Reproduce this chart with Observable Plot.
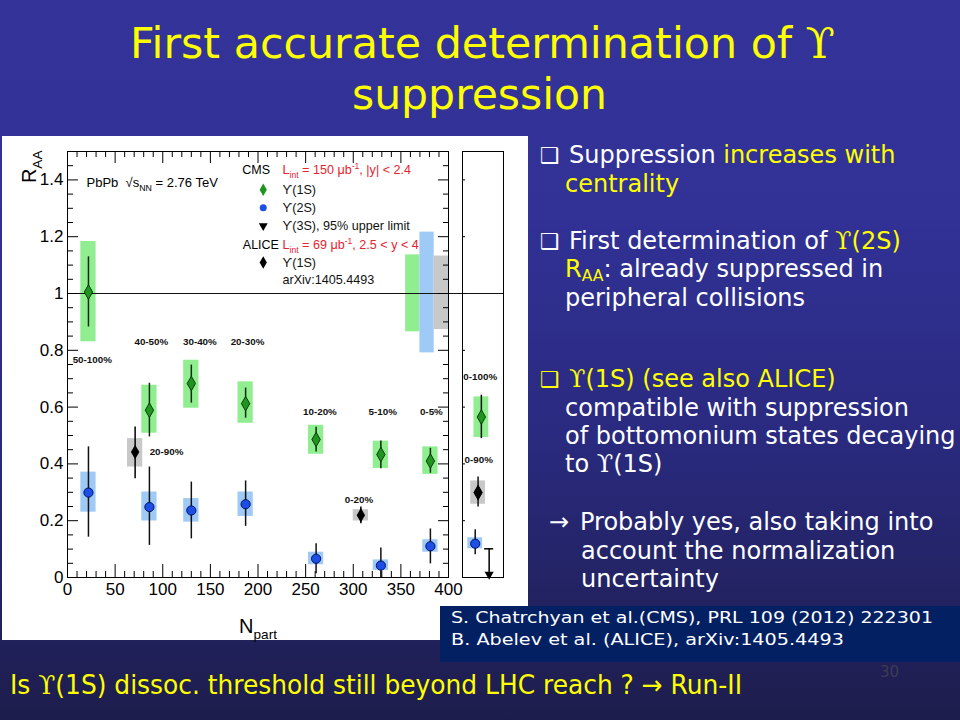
<!DOCTYPE html>
<html><head><meta charset="utf-8">
<script src="https://cdn.jsdelivr.net/npm/d3@7"></script>
<script src="https://cdn.jsdelivr.net/npm/@observablehq/plot@0.6"></script>
<style>
body{margin:0;background:#1c1c48;}
#slide{position:relative;width:960px;height:720px;overflow:hidden;
  background:linear-gradient(to bottom,#333399 0%,#313196 30%,#2a2a80 60%,#1d1d4c 100%);
  font-family:"DejaVu Sans",Verdana,sans-serif;}
.ln{position:absolute;white-space:nowrap;color:#fff;transform-origin:0 50%;}
.yl{color:#ffff00;}
.ups{font-family:"DejaVu Serif",serif;}
.ln sub{font-size:0.65em;vertical-align:-0.25em;line-height:0;}
#panel{position:absolute;left:2px;top:136px;width:526px;height:504px;background:#fff;}
#main,#integ{position:absolute;top:136px;}
#main{left:2px;} #integ{left:450px;}
#refbox{position:absolute;left:440px;top:606px;width:520px;height:56px;background:#032063;}
</style></head><body>
<div id="slide">
  <div id="panel"></div>
  <div id="main"></div>
  <div id="integ"></div>
  <div id="refbox"></div>

  <div class="ln yl" data-x="130" data-b="58" data-w="705" style="font-size:42.5px">First accurate determination of <span class="ups">ϒ</span></div>
  <div class="ln yl" data-x="352" data-b="109" data-w="255" style="font-size:42.5px">suppression</div>

  <div class="ln" data-x="540" data-b="164" style="font-size:22px">❑</div>
  <div class="ln" data-x="569" data-b="164" style="font-size:24px">Suppression <span class="yl">increases with</span></div>
  <div class="ln yl" data-x="565" data-b="193" style="font-size:24px">centrality</div>

  <div class="ln" data-x="540" data-b="250" style="font-size:22px">❑</div>
  <div class="ln" data-x="569" data-b="250" style="font-size:24px">First determination of <span class="yl"><span class="ups">ϒ</span>(2S)</span></div>
  <div class="ln" data-x="565" data-b="278" style="font-size:24px"><span class="yl">R<sub>AA</sub></span>: already suppressed in</div>
  <div class="ln" data-x="565" data-b="307" style="font-size:24px">peripheral collisions</div>

  <div class="ln yl" data-x="540" data-b="388" style="font-size:22px">❑</div>
  <div class="ln yl" data-x="569" data-b="388" style="font-size:24px"><span class="ups">ϒ</span>(1S) (see also ALICE)</div>
  <div class="ln" data-x="565" data-b="417" style="font-size:24px">compatible with suppression</div>
  <div class="ln" data-x="565" data-b="445" style="font-size:24px">of bottomonium states decaying</div>
  <div class="ln" data-x="565" data-b="473" style="font-size:24px">to <span class="ups">ϒ</span>(1S)</div>

  <div class="ln" data-x="549" data-b="531" style="font-size:24px">→</div>
  <div class="ln" data-x="580" data-b="531" style="font-size:24px">Probably yes, also taking into</div>
  <div class="ln" data-x="581" data-b="560" style="font-size:24px">account the normalization</div>
  <div class="ln" data-x="581" data-b="588" style="font-size:24px">uncertainty</div>

  <div class="ln" data-x="451" data-b="624" data-w="482" style="font-size:16.5px">S. Chatrchyan et al.(CMS), PRL 109 (2012) 222301</div>
  <div class="ln" data-x="451" data-b="646" data-w="393" style="font-size:16.5px">B. Abelev et al. (ALICE), arXiv:1405.4493</div>
  <div class="ln" data-x="880" data-b="677" style="font-size:15px;color:#3c3c54">30</div>

  <div class="ln yl" data-x="10" data-b="695" data-w="732" style="font-size:26px">Is <span class="ups">ϒ</span>(1S) dissoc. threshold still beyond LHC reach ? → Run-II</div>
</div>
<script>
// ---------------- data ----------------
// CMS Upsilon(1S) and Upsilon(2S) vs Npart (centrality bins)
const centCMS   = ["50-100%", "40-50%", "30-40%", "20-30%", "10-20%", "5-10%", "0-5%"];
const npartCMS  = [22, 86, 130, 187, 261, 329, 381];
const raa1S       = [1.005, 0.589, 0.683, 0.612, 0.486, 0.433, 0.410];
const raa1SStatLo = [0.882, 0.495, 0.614, 0.561, 0.442, 0.383, 0.367];
const raa1SStatHi = [1.129, 0.684, 0.748, 0.667, 0.529, 0.481, 0.455];
const raa1SSysLo  = [0.830, 0.508, 0.596, 0.543, 0.434, 0.384, 0.363];
const raa1SSysHi  = [1.183, 0.677, 0.765, 0.689, 0.536, 0.480, 0.460];
const raa2S       = [0.299, 0.248, 0.236, 0.258, 0.066, 0.042, 0.110];
const raa2SStatLo = [0.142, 0.113, 0.136, 0.180, 0.013, 0.000, 0.048];
const raa2SStatHi = [0.460, 0.389, 0.336, 0.340, 0.119, 0.104, 0.171];
const raa2SSysLo  = [0.230, 0.199, 0.195, 0.215, 0.045, 0.025, 0.089];
const raa2SSysHi  = [0.371, 0.301, 0.278, 0.301, 0.089, 0.062, 0.133];
// ALICE Upsilon(1S), forward rapidity
const centALICE   = ["20-90%", "0-20%"];
const npartALICE  = [71, 308];
const raaA        = [0.442, 0.219];
const raaAStatLo  = [0.348, 0.189];
const raaAStatHi  = [0.530, 0.248];
const raaASysLo   = [0.389, 0.199];
const raaASysHi   = [0.489, 0.239];
// global (normalisation) uncertainties around unity
const globalNames = ["CMS ϒ(1S)", "CMS ϒ(2S)", "ALICE ϒ(1S)"];
const globalLo    = [0.865, 0.791, 0.873];
const globalHi    = [1.136, 1.216, 1.132];
// centrality-integrated values (right panel)
const intNames    = ["CMS ϒ(1S) 0-100%", "CMS ϒ(2S) 0-100%", "ALICE ϒ(1S) 0-90%"];
const intRaa      = [0.565, 0.119, 0.299];
const intStatLo   = [0.489, 0.080, 0.248];
const intStatHi   = [0.642, 0.168, 0.354];
const intSysLo    = [0.493, 0.101, 0.258];
const intSysHi    = [0.636, 0.140, 0.340];
const limit3S     = 0.101;   // CMS Upsilon(3S) 95% CL upper limit, 0-100%
// axis ticks
const xTickLabels = [0, 50, 100, 150, 200, 250, 300, 350, 400];
const yTickLabels = [0, 0.2, 0.4, 0.6, 0.8, 1, 1.2, 1.4];
const xMinorTicks = d3.range(10, 400, 10).filter(v => v % 50 !== 0);
const yMinorTicks = d3.range(1, 30).filter(i => i % 4 !== 0).map(i => i * 0.05);
// annotation labels (placed in data units)
const annText = ["50-100%", "40-50%", "30-40%", "20-30%", "10-20%", "5-10%", "0-5%", "20-90%", "0-20%"];
const annX    = [26, 88, 139, 189, 265, 331, 382, 104, 306];
const annY    = [0.765, 0.83, 0.83, 0.83, 0.583, 0.583, 0.583, 0.442, 0.272];

// ---------------- build ----------------
const cms1S = centCMS.map((c, i) => ({c, x: npartCMS[i], y: raa1S[i], sl: raa1SStatLo[i], sh: raa1SStatHi[i], yl: raa1SSysLo[i], yh: raa1SSysHi[i]}));
const cms2S = centCMS.map((c, i) => ({c, x: npartCMS[i], y: raa2S[i], sl: raa2SStatLo[i], sh: raa2SStatHi[i], yl: raa2SSysLo[i], yh: raa2SSysHi[i]}));
const alice = centALICE.map((c, i) => ({c, x: npartALICE[i], y: raaA[i], sl: raaAStatLo[i], sh: raaAStatHi[i], yl: raaASysLo[i], yh: raaASysHi[i]}));
const globalBoxes = globalNames.map((n, i) => ({n, i, lo: globalLo[i], hi: globalHi[i]}));
const ann = annText.map((t, i) => ({t, x: annX[i], y: annY[i]}));

const BOXW = 8;          // half width of systematic boxes (Npart units)
const GW = 15;           // width of global-uncertainty boxes
const GREEN_BOX = "#90ee90", BLUE_BOX = "#9fcaf6", GRAY_BOX = "#c8c8c8";
const GREEN = "#1f951f", BLUE = "#1d4fe6";
const DR = 4.4;          // diamond marker size
const W = 460, H = 504, ML = 65, MR = 14, MT = 15, MB = 63;
const FW = W - ML - MR, FH = H - MT - MB;
const globalFill = [GREEN_BOX, BLUE_BOX, GRAY_BOX];

// legend (data units within the frame)
const legSymX = 205.5, legTxtX = 225.7;
const legend = [
  {t: "L_{int} = 150 μb^{-1}, |y| < 2.4", y: 1.434, red: true},
  {t: "ϒ(1S)", y: 1.365},
  {t: "ϒ(2S)", y: 1.302},
  {t: "ϒ(3S), 95% upper limit", y: 1.238},
  {t: "L_{int} = 69 μb^{-1}, 2.5 < y < 4", y: 1.171, red: true},
  {t: "ϒ(1S)", y: 1.109},
  {t: "arXiv:1405.4493", y: 1.048}
];

const main = Plot.plot({
  width: W, height: H, marginLeft: ML, marginRight: MR, marginTop: MT, marginBottom: MB,
  style: {background: "transparent", fontFamily: "Liberation Sans, Arial, sans-serif", overflow: "visible"},
  x: {domain: [0, 400], label: null},
  y: {domain: [0, 1.5], label: null},
  marks: [
    Plot.rect(cms1S, {x1: d => d.x - BOXW, x2: d => d.x + BOXW, y1: "yl", y2: "yh", fill: GREEN_BOX}),
    Plot.rect(cms2S, {x1: d => d.x - BOXW, x2: d => d.x + BOXW, y1: "yl", y2: "yh", fill: BLUE_BOX}),
    Plot.rect(alice, {x1: d => d.x - BOXW, x2: d => d.x + BOXW, y1: "yl", y2: "yh", fill: GRAY_BOX}),
    Plot.rect(globalBoxes, {x1: d => 400 - GW * (3 - d.i), x2: d => 400 - GW * (2 - d.i), y1: "lo", y2: "hi", fill: d => globalFill[d.i]}),
    Plot.ruleY([1], {stroke: "#111", strokeWidth: 1.2, insetRight: -14}),
    Plot.ruleX(cms1S, {x: "x", y1: "sl", y2: "sh", stroke: "#0c2a0c", strokeWidth: 1.5}),
    Plot.ruleX(cms2S, {x: "x", y1: "sl", y2: "sh", stroke: "#111", strokeWidth: 1.5}),
    Plot.ruleX(alice, {x: "x", y1: "sl", y2: "sh", stroke: "#000", strokeWidth: 1.5}),
    Plot.dot(cms1S, {x: "x", y: "y", symbol: "diamond", r: DR, fill: GREEN, stroke: "#0a3a0a", strokeWidth: 1}),
    Plot.dot(cms2S, {x: "x", y: "y", r: 4.6, fill: BLUE, stroke: "#001060", strokeWidth: 1}),
    Plot.dot(alice, {x: "x", y: "y", symbol: "diamond", r: DR, fill: "#000"}),
    // ticks (inward)
    Plot.tickY(yTickLabels.slice(1), {insetRight: FW - 11, stroke: "#000"}),
    Plot.tickY(yMinorTicks, {insetRight: FW - 6, stroke: "#000"}),
    Plot.tickY(yTickLabels.slice(1), {insetLeft: FW - 10, stroke: "#000"}),
    Plot.tickY(yMinorTicks, {insetLeft: FW - 5, stroke: "#000"}),
    Plot.tickX(xTickLabels.slice(1, -1), {insetTop: FH - 13, stroke: "#000"}),
    Plot.tickX(xMinorTicks, {insetTop: FH - 6, stroke: "#000"}),
    Plot.tickX(xTickLabels.slice(1, -1), {insetBottom: FH - 12, stroke: "#000"}),
    Plot.tickX(xMinorTicks, {insetBottom: FH - 6, stroke: "#000"}),
    Plot.frame({stroke: "#000", strokeWidth: 1}),
    Plot.axisY({ticks: yTickLabels, tickSize: 0, tickPadding: 4, fontSize: 17, label: null, tickFormat: d => String(d), fill: "#000"}),
    Plot.axisX({ticks: xTickLabels, tickSize: 0, tickPadding: 5, fontSize: 17, label: null, tickFormat: d => String(d), fill: "#000"}),
    Plot.text(["R_{AA}"], {frameAnchor: "top-left", dx: -38, dy: -1, rotate: -90, textAnchor: "end", lineAnchor: "middle", fontSize: 20}),
    Plot.text(["N_{part}"], {frameAnchor: "bottom", dy: 49, lineAnchor: "middle", fontSize: 20}),
    // annotations
    Plot.text(ann, {x: "x", y: "y", text: "t", fontSize: 9.8, fontWeight: "bold", fill: "#111"}),
    // legend
    Plot.text(["PbPb  √s_{NN} = 2.76 TeV"], {x: () => 20, y: () => 1.39, textAnchor: "start", fontSize: 13}),
    Plot.text(["CMS"], {x: () => 198, y: () => 1.434, fontSize: 12.5}),
    Plot.text(["ALICE"], {x: () => 203, y: () => 1.171, fontSize: 12.5}),
    Plot.text(legend, {x: () => legTxtX, y: "y", text: "t", textAnchor: "start", fontSize: 12.6, fill: d => d.red ? "#e8232e" : "#111"}),
    Plot.dot([legend[1]], {x: () => legSymX, y: "y", symbol: "diamond", r: 3.8, fill: GREEN}),
    Plot.dot([legend[2]], {x: () => legSymX, y: "y", r: 3.5, fill: BLUE}),
    Plot.dot([legend[3]], {x: () => legSymX, y: "y", symbol: "triangle", rotate: 180, r: 3.3, fill: "#000"}),
    Plot.dot([legend[5]], {x: () => legSymX, y: "y", symbol: "diamond", r: 3.8, fill: "#000"})
  ]
});

const intData = intNames.map((n, i) => ({n, y: intRaa[i], sl: intStatLo[i], sh: intStatHi[i], yl: intSysLo[i], yh: intSysHi[i]}));
// horizontal offsets inside the integrated panel, for visibility
const intPos = [0.46, 0.31, 0.38];
const intMarks = [
  {symbol: "diamond", fill: GREEN, stroke: "#0a3a0a", box: GREEN_BOX},
  {symbol: "circle", fill: BLUE, stroke: "#001060", box: BLUE_BOX},
  {symbol: "diamond", fill: "#000", stroke: "#000", box: GRAY_BOX}
];
intData.forEach((d, i) => { d.x = intPos[i]; Object.assign(d, intMarks[i]); });
const lim = [{x: 0.65, y: limit3S}];
const IW = 78, IML = 12, IMR = 25, IFW = IW - IML - IMR;

const integ = Plot.plot({
  width: IW, height: H, marginLeft: IML, marginRight: IMR, marginTop: MT, marginBottom: MB,
  style: {background: "transparent", fontFamily: "Liberation Sans, Arial, sans-serif", overflow: "visible"},
  x: {domain: [0, 1], axis: null},
  y: {domain: [0, 1.5], axis: null},
  marks: [
    Plot.rect(intData, {x1: d => d.x - 0.18, x2: d => d.x + 0.18, y1: "yl", y2: "yh", fill: "box"}),
    Plot.ruleY([1], {stroke: "#111", strokeWidth: 1.2}),
    Plot.ruleX(intData, {x: "x", y1: "sl", y2: "sh", stroke: "#111", strokeWidth: 1.5}),
    Plot.dot(intData.filter(d => d.symbol === "diamond"), {x: "x", y: "y", symbol: "diamond", r: DR, fill: "fill", stroke: "stroke", strokeWidth: 1}),
    Plot.dot(intData.filter(d => d.symbol === "circle"), {x: "x", y: "y", r: 4.6, fill: "fill", stroke: "stroke", strokeWidth: 1}),
    Plot.ruleX(lim, {x: "x", y1: "y", y2: () => 0, stroke: "#000", strokeWidth: 1.5}),
    Plot.ruleY(lim, {y: "y", x1: d => d.x - 0.11, x2: d => d.x + 0.11, stroke: "#000", strokeWidth: 1.5}),
    Plot.dot(lim, {x: "x", y: () => 0, dy: -3, symbol: "triangle", rotate: 180, r: 3.4, fill: "#000"}),
    Plot.tickY(yTickLabels.slice(1), {insetRight: IFW - 3, stroke: "#000"}),
    Plot.frame({stroke: "#000", strokeWidth: 1}),
    Plot.text(["0-100%"], {x: () => 0.02, y: () => 0.707, textAnchor: "start", fontSize: 9.8, fontWeight: "bold", fill: "#111"}),
    Plot.text(["0-90%"], {x: () => 0.05, y: () => 0.413, textAnchor: "start", fontSize: 9.8, fontWeight: "bold", fill: "#111"})
  ]
});

document.getElementById("main").appendChild(main);
document.getElementById("integ").appendChild(integ);

// sub/superscript markup -> tspans
function richify(svg) {
  svg.querySelectorAll("text").forEach(t => {
    const s = t.textContent;
    if (!/[_^]\{/.test(s)) return;
    const fs = parseFloat(getComputedStyle(t).fontSize) || 12;
    const parts = s.split(/([_^]\{[^}]*\})/).filter(p => p !== "");
    while (t.firstChild) t.removeChild(t.firstChild);
    let cur = 0;
    parts.forEach(p => {
      let shift = 0, txt = p, small = false;
      if (p.startsWith("_{")) { shift = 0.3 * fs; txt = p.slice(2, -1); small = true; }
      else if (p.startsWith("^{")) { shift = -0.4 * fs; txt = p.slice(2, -1); small = true; }
      const ts = document.createElementNS("http://www.w3.org/2000/svg", "tspan");
      ts.setAttribute("dy", (shift - cur).toFixed(2));
      cur = shift;
      if (small) ts.setAttribute("font-size", (0.68 * fs).toFixed(1));
      ts.textContent = txt;
      t.appendChild(ts);
    });
  });
}
richify(main);

// position slide text lines by baseline
document.querySelectorAll(".ln").forEach(el => {
  const fs = parseFloat(el.style.fontSize);
  el.style.lineHeight = (1.2 * fs) + "px";
  el.style.left = el.dataset.x + "px";
  el.style.top = (parseFloat(el.dataset.b) - 0.946 * fs) + "px";
  if (el.dataset.w) {
    const w = el.getBoundingClientRect().width;
    el.style.transform = `scaleX(${(+el.dataset.w / w).toFixed(4)})`;
  }
});
</script>
</body></html>
